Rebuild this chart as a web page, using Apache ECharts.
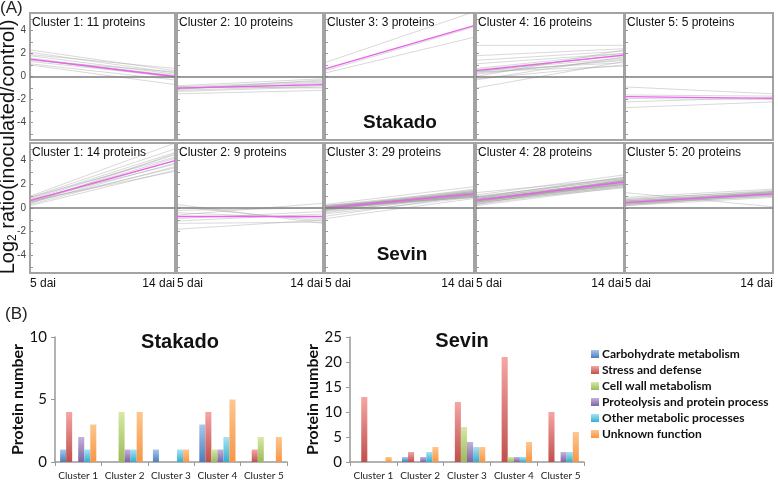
<!DOCTYPE html>
<html>
<head>
<meta charset="utf-8">
<script src="https://cdn.jsdelivr.net/npm/echarts@6/dist/echarts.min.js"></script>
<style>
html,body{margin:0;padding:0;background:#fff;}
#chart{width:778px;height:481px;}
</style>
</head>
<body>
<div id="chart"></div>
<script>
// ---------- DATA ----------
const timePoints = ['5 dai', '14 dai'];
const clusterNames = ['Cluster 1', 'Cluster 2', 'Cluster 3', 'Cluster 4', 'Cluster 5'];
const stakadoCounts = [11, 10, 3, 16, 5];
const sevinCounts = [14, 9, 29, 28, 20];

// each protein profile: [log2 ratio at 5 dai, log2 ratio at 14 dai]
const stakadoC1 = [[2.3,0.5],[2.1,0.3],[1.9,0.7],[1.8,0.2],[1.6,0.0],[1.5,-0.1],[1.4,0.4],[1.3,0.0],[1.1,-0.3],[1.0,-0.7],[1.5,0.1]];
const stakadoC2 = [[-0.8,-0.2],[-0.9,-0.4],[-1.0,-0.5],[-1.1,-0.6],[-1.2,-0.8],[-1.3,-0.9],[-0.9,-1.0],[-1.5,-1.2],[-1.0,-0.7],[-1.1,-0.3]];
const stakadoC3 = [[1.2,5.6],[0.5,4.3],[0.3,3.4]];
const stakadoC4 = [[2.7,2.7],[1.8,2.4],[1.4,2.2],[1.1,2.0],[0.6,1.8],[0.5,1.6],[0.4,1.9],[0.3,1.4],[0.5,1.2],[0.2,1.5],[0.0,2.3],[-0.2,1.0],[-0.3,1.7],[-1.0,1.3],[0.7,2.0],[0.4,0.9]];
const stakadoC5 = [[-0.9,-1.5],[-1.6,-1.7],[-1.9,-2.0],[-2.2,-1.8],[-2.7,-2.2]];
const sevinC1 = [[1.0,5.5],[0.9,5.0],[0.8,4.7],[0.7,4.5],[0.9,4.3],[0.6,4.2],[0.5,4.0],[0.4,3.8],[0.7,3.7],[0.3,3.5],[0.5,3.4],[0.2,3.2],[0.6,3.1],[0.4,4.6]];
const sevinC2 = [[0.3,-1.3],[0.1,-1.1],[-0.2,0.0],[-0.4,-0.9],[-0.6,0.4],[-0.9,-0.3],[-1.1,-0.5],[-1.3,-1.2],[-1.8,-1.0]];
const sevinC3 = [[0.3,1.8],[0.2,1.5],[0.2,1.3],[0.1,1.4],[0.1,1.2],[0.1,1.0],[0.0,1.6],[0.0,1.1],[0.0,1.3],[0.0,0.9],[-0.1,1.2],[-0.1,1.4],[-0.1,1.0],[-0.2,1.1],[-0.2,1.3],[-0.3,1.0],[-0.4,1.2],[-0.5,0.9],[-0.7,1.1],[-0.9,0.8],[0.1,1.2],[0.0,1.3],[0.2,1.1],[-0.1,1.5],[0.0,1.0],[0.1,1.2],[-0.2,1.4],[0.0,1.1],[0.1,0.9]];
const sevinC4 = [[1.3,2.5],[1.1,2.8],[1.0,2.4],[0.9,2.6],[0.9,2.2],[0.8,2.3],[0.8,2.0],[0.8,2.5],[0.7,2.1],[0.7,2.3],[0.7,1.9],[0.7,2.2],[0.6,2.4],[0.6,2.0],[0.6,2.1],[0.6,1.8],[0.5,2.3],[0.5,2.2],[0.5,1.7],[0.4,2.0],[0.4,2.1],[0.3,1.9],[0.3,2.4],[0.2,1.8],[0.9,2.6],[0.7,2.2],[0.6,2.0],[0.5,2.3]];
const sevinC5 = [[1.3,0.1],[0.9,1.6],[0.8,1.4],[0.7,1.3],[0.7,1.5],[0.6,1.2],[0.6,1.3],[0.5,1.1],[0.5,1.4],[0.5,1.2],[0.4,1.0],[0.4,1.3],[0.4,1.2],[0.3,1.1],[0.3,1.0],[0.3,1.3],[0.2,0.9],[0.2,1.2],[0.6,1.1],[0.4,1.4]];
// cluster centroid (magenta) profiles
const stakadoMean = [[1.5,0.0],[-1.0,-0.7],[0.65,4.4],[0.5,1.85],[-1.75,-1.9]];
const sevinMean = [[0.62,4.0],[-0.72,-0.72],[0.0,1.2],[0.65,2.2],[0.45,1.2]];
const yLabelValues = [-4, -2, 0, 2, 4];
const yTickValues = [-5, -4, -3, -2, -1, 0, 1, 2, 3, 4, 5];

// bar chart (B)
const categoriesFunc = ['Carbohydrate metabolism', 'Stress and defense', 'Cell wall metabolism', 'Proteolysis and protein process', 'Other metabolic processes', 'Unknown function'];
// per functional category, values for Cluster 1..5
const stakadoBars = [
  [1, 0, 1, 3, 0],
  [4, 0, 0, 4, 1],
  [0, 4, 0, 1, 2],
  [2, 1, 0, 1, 0],
  [1, 1, 1, 2, 0],
  [3, 4, 1, 5, 2]
];
const sevinBars = [
  [0, 1, 0, 0, 0],
  [13, 2, 12, 21, 10],
  [0, 0, 7, 1, 0],
  [0, 1, 4, 1, 2],
  [0, 2, 3, 1, 2],
  [1, 3, 3, 4, 6]
];

// ---------- STYLE / LAYOUT ----------
const barTop = ['#a9c8ec', '#f4a6a4', '#d6e9a6', '#c3b3db', '#a6e3f3', '#fcc78f'];
const barBot = ['#4a7ebb', '#c0504d', '#9bbb59', '#8064a2', '#35aed0', '#f79646'];
const colLeft = [30, 177, 325, 476, 625];
const colWidth = [145, 146, 149, 148, 148];
const rowTop = [13, 143];
const rowHeight = [127, 130];
const AF = '"Liberation Sans", Arial, sans-serif';
const CF = 'Lato, "Open Sans", sans-serif';

const chart = echarts.init(document.getElementById('chart'), null, {renderer: 'canvas'});

const grids = [], xAxes = [], yAxes = [], series = [], graphics = [];
const rows = [
  {lines: [stakadoC1, stakadoC2, stakadoC3, stakadoC4, stakadoC5], mean: stakadoMean, counts: stakadoCounts},
  {lines: [sevinC1, sevinC2, sevinC3, sevinC4, sevinC5], mean: sevinMean, counts: sevinCounts}
];

rows.forEach((row, r) => {
  for (let c = 0; c < 5; c++) {
    const gi = grids.length;
    grids.push({left: colLeft[c], top: rowTop[r], width: colWidth[c], height: rowHeight[r],
      show: true, borderColor: '#a3a3a3', borderWidth: 2, backgroundColor: '#fff', containLabel: false});
    xAxes.push({type: 'category', gridIndex: gi, data: timePoints, boundaryGap: false,
      axisLine: {show: false}, axisTick: {show: false}, splitLine: {show: false},
      axisLabel: {show: r === 1, fontFamily: AF, fontSize: 12, color: '#111', margin: 5,
        alignMinLabel: 'left', alignMaxLabel: 'right'}});
    yAxes.push({type: 'value', gridIndex: gi, min: -5.5, max: 5.5,
      axisLine: {show: false}, splitLine: {show: false},
      axisTick: {show: true, inside: true, length: 3, customValues: yTickValues, lineStyle: {color: '#999'}},
      axisLabel: {show: c === 0, customValues: yLabelValues, fontFamily: AF, fontSize: 10, color: '#444', margin: 4}});
    row.lines[c].forEach(p => {
      series.push({type: 'line', xAxisIndex: gi, yAxisIndex: gi, data: p, symbol: 'none', silent: true,
        lineStyle: {color: 'rgba(160,160,160,0.4)', width: 1}, z: 2});
    });
    series.push({type: 'line', xAxisIndex: gi, yAxisIndex: gi, data: row.mean[c], symbol: 'none', silent: true,
      lineStyle: {color: '#ea62ea', width: 1.3}, z: 4,
      markLine: {silent: true, symbol: 'none', label: {show: false}, animation: false,
        data: [{yAxis: 0}], lineStyle: {color: '#7d7d7d', width: 1.5, type: 'solid'}}});
    graphics.push({type: 'text', left: colLeft[c] + 2, top: rowTop[r] + 4, z: 10,
      style: {text: clusterNames[c] + ': ' + row.counts[c] + ' proteins', fontFamily: AF, fontSize: 12, fill: '#111'}});
  }
});

// bar grids
const bi0 = grids.length;
grids.push({left: 55, top: 337, width: 232, height: 125});
grids.push({left: 350, top: 337, width: 234, height: 125});
[0, 1].forEach(k => {
  xAxes.push({type: 'category', gridIndex: bi0 + k, data: clusterNames,
    axisLine: {lineStyle: {color: '#999', width: 1.5}}, axisTick: {show: true, length: 4, lineStyle: {color: '#999'}},
    axisLabel: {interval: 0, fontFamily: CF, fontSize: 10, color: '#222', margin: 9}});
  yAxes.push({type: 'value', gridIndex: bi0 + k, min: 0, max: k === 0 ? 10 : 25, interval: 5,
    name: 'Protein number', nameLocation: 'middle', nameGap: 28,
    nameTextStyle: {fontFamily: CF, fontWeight: 'bold', fontSize: 16, color: '#111'},
    axisLine: {show: true, lineStyle: {color: '#999', width: 1.5}}, axisTick: {show: true, length: 4, lineStyle: {color: '#999'}},
    splitLine: {show: false},
    axisLabel: {fontFamily: CF, fontSize: 15, color: '#111', margin: 8}});
});
const barSets = [stakadoBars, sevinBars];
barSets.forEach((set, k) => {
  set.forEach((vals, i) => {
    series.push({type: 'bar', name: categoriesFunc[i], xAxisIndex: bi0 + k, yAxisIndex: bi0 + k, data: vals,
      barGap: '0%', barCategoryGap: '22%',
      itemStyle: {color: new echarts.graphic.LinearGradient(0, 0, 0, 1, [{offset: 0, color: barTop[i]}, {offset: 1, color: barBot[i]}])}});
  });
});

// texts
graphics.push({type: 'text', left: 0, top: 0, style: {text: '(A)', fontFamily: AF, fontSize: 17, fill: '#222'}});
graphics.push({type: 'text', left: 5, top: 306, style: {text: '(B)', fontFamily: AF, fontSize: 17, fill: '#222'}});
graphics.push({type: 'text', x: 400, y: 123, z: 10, style: {text: 'Stakado', fontFamily: AF, fontWeight: 'bold', fontSize: 19, fill: '#111', align: 'center', verticalAlign: 'middle'}});
graphics.push({type: 'text', x: 402, y: 255, z: 10, style: {text: 'Sevin', fontFamily: AF, fontWeight: 'bold', fontSize: 19, fill: '#111', align: 'center', verticalAlign: 'middle'}});
graphics.push({type: 'text', x: 180, y: 342, style: {text: 'Stakado', fontFamily: AF, fontWeight: 'bold', fontSize: 20, fill: '#111', align: 'center', verticalAlign: 'middle'}});
graphics.push({type: 'text', x: 462, y: 341, style: {text: 'Sevin', fontFamily: AF, fontWeight: 'bold', fontSize: 20, fill: '#111', align: 'center', verticalAlign: 'middle'}});
graphics.push({type: 'text', x: 8, y: 147, rotation: Math.PI / 2, style: {
  text: 'Log{sub|2} ratio(inoculated/control)', fontFamily: AF, fontSize: 20, fill: '#111', align: 'center', verticalAlign: 'middle',
  rich: {sub: {fontFamily: AF, fontSize: 12, fill: '#111', padding: [10, 0, 0, 0]}}}});

const option = {
  animation: false,
  backgroundColor: '#fff',
  grid: grids,
  xAxis: xAxes,
  yAxis: yAxes,
  series: series,
  graphic: graphics,
  legend: {
    orient: 'vertical', left: 586, top: 343, itemWidth: 8, itemHeight: 8, itemGap: 4,
    data: categoriesFunc, icon: 'rect',
    textStyle: {fontFamily: CF, fontWeight: 'bold', fontSize: 12, color: '#111', padding: [0, 0, 0, -2]}
  }
};
chart.setOption(option);
</script>
</body>
</html>
